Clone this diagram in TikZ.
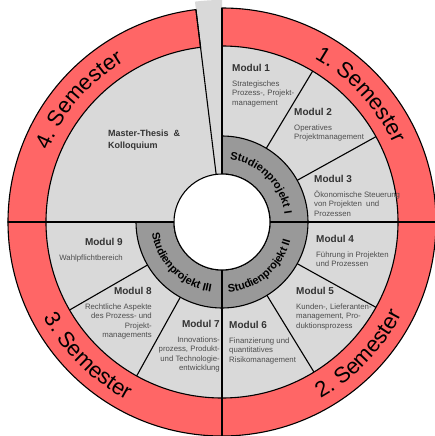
\documentclass[tikz,border=0pt]{standalone}
\usepackage{fontspec}
\setmainfont{Liberation Sans}
\usepackage{tikz}
\usetikzlibrary{decorations.text}

\definecolor{semred}{RGB}{255,102,102}
\definecolor{modgray}{RGB}{217,217,217}
\definecolor{projgray}{RGB}{153,153,153}
\definecolor{headcol}{RGB}{51,51,51}
\definecolor{desccol}{RGB}{77,77,77}

\newcommand{\semfont}{\fontsize{22}{22}\selectfont}
\newcommand{\projfont}{\bfseries\fontsize{11}{11}\selectfont}
\newcommand{\modhead}[1]{{\bfseries\fontsize{10}{12}\selectfont\color{headcol}#1}}

\begin{document}
\begin{tikzpicture}[x=1pt,y=1pt,
  semseg/.style={fill=semred,draw=black,line width=1.1pt},
  projseg/.style={fill=projgray,draw=black,line width=1.1pt},
  divline/.style={draw=black,line width=1.1pt},
  modtext/.style={inner sep=0pt,text=desccol,font=\fontsize{7.8}{9.6}\selectfont},
  arctext/.style={decorate,decoration={text along path,text align=center,text={#1}}}]

\useasboundingbox (-222,-214) rectangle (212,222);

% gap at the top
\fill[modgray] (0,0) -- (90:222) arc[start angle=90,end angle=97,radius=222] -- cycle;

% module field
\fill[modgray] (0,0) circle(176);

% semester ring
\draw[semseg] (0:176) -- (0:214) arc[start angle=0,end angle=90,radius=214] -- (90:176) arc[start angle=90,end angle=0,radius=176] -- cycle; %1
\draw[semseg] (-90:176) -- (-90:214) arc[start angle=-90,end angle=0,radius=214] -- (0:176) arc[start angle=0,end angle=-90,radius=176] -- cycle; %2
\draw[semseg] (180:176) -- (180:214) arc[start angle=180,end angle=270,radius=214] -- (270:176) arc[start angle=270,end angle=180,radius=176] -- cycle; %3
\draw[semseg] (97:176) -- (97:214) arc[start angle=97,end angle=180,radius=214] -- (180:176) arc[start angle=180,end angle=97,radius=176] -- cycle; %4

% studienprojekt ring
\draw[projseg] (0:48) -- (0:86) arc[start angle=0,end angle=90,radius=86] -- (90:48) arc[start angle=90,end angle=0,radius=48] -- cycle; %I
\draw[projseg] (-90:48) -- (-90:86) arc[start angle=-90,end angle=0,radius=86] -- (0:48) arc[start angle=0,end angle=-90,radius=48] -- cycle; %II
\draw[projseg] (180:48) -- (180:86) arc[start angle=180,end angle=270,radius=86] -- (270:48) arc[start angle=270,end angle=180,radius=48] -- cycle; %III

\draw[fill=white,line width=1.1pt] (0,0) circle(48);

% main spokes
\draw[divline] (0:48) -- (0:214);
\draw[divline] (90:48) -- (90:214);
\draw[divline] (97:48) -- (97:214);
\draw[divline] (180:48) -- (180:214);
\draw[divline] (270:48) -- (270:214);

% module borders
\draw[divline] (59:86) -- (59:176); %1-2
\draw[divline] (29:86) -- (29:176); %2-3
\draw[divline] (-29:86) -- (-29:176); %4-5
\draw[divline] (-58.5:86) -- (-58.5:176); %5-6
\draw[divline] (241:86) -- (241:176); %7-8
\draw[divline] (210:86) -- (210:176); %8-9

% semester labels
\path[arctext={|\semfont|1. Semester}] (72.5:188) arc[start angle=72.5,end angle=12.5,radius=188];
\path[arctext={|\semfont|2. Semester}] (-74:202) arc[start angle=-74,end angle=-14,radius=202];
\path[arctext={|\semfont|3. Semester}] (195:202) arc[start angle=195,end angle=255,radius=202];
\path[arctext={|\semfont|4. Semester}] (169.5:188) arc[start angle=169.5,end angle=109.5,radius=188];

% studienprojekt labels
\path[arctext={|\projfont|Studienprojekt I}] (100:63) arc[start angle=100,end angle=-10,radius=63];
\path[arctext={|\projfont|Studienprojekt II}] (-105:71) arc[start angle=-105,end angle=5,radius=71];
\path[arctext={|\projfont|Studienprojekt III}] (170:71) arc[start angle=170,end angle=280,radius=71];

% modules
\node[modtext,anchor=north west,align=left,text=headcol,font=\bfseries\fontsize{9}{12}\selectfont] (thesis) at (-114,92) {Master-Thesis \ \&\\Kolloquium};
\node[modtext,anchor=north west,align=left] (m1) at (10,158) {\modhead{Modul 1}\\[5pt]Strategisches\\Prozess-, Projekt-\\management};
\node[modtext,anchor=north west,align=left] (m2) at (72,114) {\modhead{Modul 2}\\[5pt]Operatives\\Projektmanagement};
\node[modtext,anchor=north west,align=left] (m3) at (92,47) {\modhead{Modul 3}\\[5pt]Ökonomische Steuerung\\von Projekten \ und\\Prozessen};
\node[modtext,anchor=north west,align=left] (m4) at (94,-13) {\modhead{Modul 4}\\[5pt]Führung in Projekten\\und Prozessen};
\node[modtext,anchor=north west,align=left] (m5) at (74,-65) {\modhead{Modul 5}\\[5pt]Kunden-, Lieferanten-\\management, Pro-\\duktionsprozess};
\node[modtext,anchor=north west,align=left] (m6) at (7,-99) {\modhead{Modul 6}\\[5pt]Finanzierung und\\quantitatives\\Risikomanagement};
\node[modtext,anchor=north east,align=right] (m7) at (-2,-98) {\modhead{Modul 7}\\[5pt]Innovations-\\prozess, Produkt-\\und Technologie-\\entwicklung};
\node[modtext,anchor=north east,align=right] (m8) at (-70,-65) {\modhead{Modul 8}\\[5pt]Rechtliche Aspekte\\des Prozess- und\\Projekt-\\managements};
\node[modtext,anchor=north east,align=right] (m9) at (-99,-16) {\modhead{Modul 9}\\[5pt]Wahlpflichtbereich};

\end{tikzpicture}
\end{document}
